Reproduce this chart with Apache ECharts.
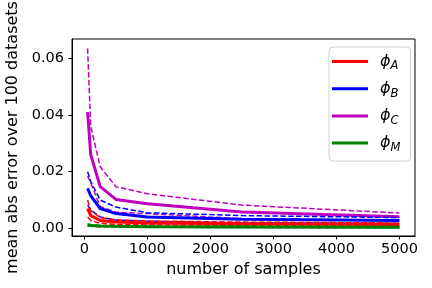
<!DOCTYPE html>
<html>
<head>
<meta charset="utf-8">
<script src="https://cdn.jsdelivr.net/npm/echarts@6/dist/echarts.min.js"></script>
<style>
html,body{margin:0;padding:0;background:#fff;}
#c{width:432px;height:288px;}
</style>
</head>
<body>
<div id="c"></div>
<script>
// ---- data ----
var samples = [50, 100, 250, 500, 1000, 2500, 5000];
var xTicks = [0, 1000, 2000, 3000, 4000, 5000];
var yTicks = [0, 0.02, 0.04, 0.06];

var phiA_mean  = [0.0070, 0.0045, 0.0028, 0.0022, 0.0019, 0.0016, 0.0014];
var phiA_upper = [0.0100, 0.0062, 0.0038, 0.0030, 0.0026, 0.0022, 0.0019];
var phiA_lower = [0.0040, 0.0028, 0.0018, 0.0014, 0.0012, 0.0010, 0.0009];

var phiB_mean  = [0.0141, 0.0115, 0.0070, 0.0052, 0.0040, 0.0032, 0.0028];
var phiB_upper = [0.0200, 0.0165, 0.0100, 0.0075, 0.0055, 0.0045, 0.0038];
var phiB_lower = [0.0082, 0.0065, 0.0040, 0.0029, 0.0025, 0.0019, 0.0018];

var phiC_mean  = [0.0410, 0.0260, 0.0147, 0.0102, 0.0087, 0.0058, 0.0041];
var phiC_upper = [0.0635, 0.0360, 0.0217, 0.0147, 0.0122, 0.0082, 0.0054];
var phiC_lower = [0.0185, 0.0160, 0.0077, 0.0057, 0.0052, 0.0034, 0.0028];

var phiM_mean  = [0.0012, 0.0010, 0.0008, 0.0007, 0.0006, 0.0005, 0.0004];
var phiM_upper = [0.0016, 0.0013, 0.0010, 0.0009, 0.0008, 0.0007, 0.0006];
var phiM_lower = [0.0008, 0.0007, 0.0006, 0.0005, 0.0004, 0.0003, 0.0002];

var legendNames = ['A', 'B', 'C', 'M'];
var xTitle = 'number of samples';
var yTitle = 'mean abs error over 100 datasets';

// ---- build ----
function pairs(ys){ return samples.map(function(x,i){ return [x, ys[i]]; }); }
var FONT = 'DejaVu Sans';
var dash = [5.5, 2.4];
function solid(name, color, ys){
  return {type:'line', name:name, data:pairs(ys), showSymbol:false, symbol:'none',
    lineStyle:{color:color, width:3}, itemStyle:{color:color}, silent:true};
}
function dashed(name, color, ys){
  return {type:'line', name:name, data:pairs(ys), showSymbol:false, symbol:'none',
    lineStyle:{color:color, width:1.5, type:dash}, itemStyle:{color:color}, silent:true};
}
var cR = '#ff0000', cB = '#0000ff', cC = '#bf00bf', cG = '#008000';
var series = [
  dashed('C_up', cC, phiC_upper), dashed('C_lo', cC, phiC_lower), solid('C', cC, phiC_mean),
  dashed('B_up', cB, phiB_upper), dashed('B_lo', cB, phiB_lower), solid('B', cB, phiB_mean),
  dashed('A_up', cR, phiA_upper), dashed('A_lo', cR, phiA_lower), solid('A', cR, phiA_mean),
  dashed('M_up', cG, phiM_upper), dashed('M_lo', cG, phiM_lower), solid('M', cG, phiM_mean)
];

var chart = echarts.init(document.getElementById('c'), null, {renderer:'canvas'});
chart.setOption({
  animation:false,
  backgroundColor:'#ffffff',
  textStyle:{fontFamily:FONT},
  grid:{left:72, top:39, right:17, bottom:52, containLabel:false, outerBoundsMode:'none',
    show:true, borderColor:'#000', borderWidth:1, backgroundColor:'transparent'},
  xAxis:{
    type:'value', min:-197.5, max:5247.5,
    name:xTitle, nameLocation:'middle', nameGap:23,
    nameTextStyle:{fontFamily:FONT, fontSize:16, color:'#000'},
    axisLine:{show:true, onZero:false, lineStyle:{color:'#000', width:1}},
    axisTick:{show:true, inside:false, length:3.5, lineStyle:{color:'#000', width:1}, customValues:xTicks},
    axisLabel:{fontFamily:FONT, fontSize:14.5, color:'#000', margin:6, customValues:xTicks,
      formatter:function(v){ return String(Math.round(v)); }},
    splitLine:{show:false}
  },
  yAxis:{
    type:'value', min:-0.0027, max:0.0668,
    name:yTitle, nameLocation:'middle', nameGap:46,
    nameTextStyle:{fontFamily:FONT, fontSize:16, color:'#000'},
    axisLine:{show:true, onZero:false, lineStyle:{color:'#000', width:1}},
    axisTick:{show:true, inside:false, length:3.5, lineStyle:{color:'#000', width:1}, customValues:yTicks},
    axisLabel:{fontFamily:FONT, fontSize:14.5, color:'#000', margin:8, customValues:yTicks,
      formatter:function(v){ return v.toFixed(2); }},
    splitLine:{show:false}
  },
  legend:{
    data:legendNames, orient:'vertical', left:329, top:47,
    padding:[6.5, 10, 7, 3], itemGap:8.2, itemWidth:36, itemHeight:3, icon:'rect',
    backgroundColor:'#ffffff', borderColor:'#d0d0d0', borderWidth:1, borderRadius:4,
    selectedMode:false,
    formatter:function(n){ return '{p|ϕ}{s|' + n + '}'; },
    textStyle:{
      fontFamily:FONT, color:'#000',
      rich:{
        p:{fontFamily:FONT, fontSize:16, fontStyle:'italic', lineHeight:22, padding:[0,0,0,7], color:'#000'},
        s:{fontFamily:FONT, fontSize:11.5, fontStyle:'italic', lineHeight:12, verticalAlign:'bottom', color:'#000'}
      }
    }
  },
  series:series
});
</script>
</body>
</html>
